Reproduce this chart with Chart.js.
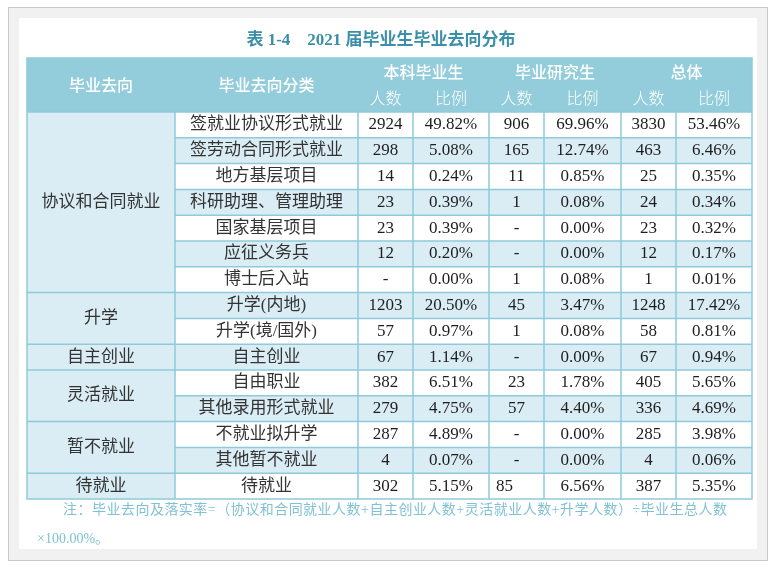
<!DOCTYPE html>
<html>
<head>
<meta charset="utf-8">
<script src="https://cdn.jsdelivr.net/npm/chart.js@4"></script>
<style>
    body { margin: 0; background: #fff; }
    #frame { position: absolute; left: 8px; top: 7px; width: 758px; height: 552px; border: 1px solid #c9c9c9; background: #f1f1f1; }
    #panel { position: absolute; left: 19px; top: 18px; width: 738px; height: 531px; background: #fff; }
</style>
</head>
<body>
<div id="frame"></div>
<div id="panel"><canvas id="tableChart" width="738" height="531"></canvas></div>
<script>
// table content
const groups = ['协议和合同就业', '升学', '自主创业', '灵活就业', '暂不就业', '待就业'];
const groupSpans = [7, 2, 1, 2, 2, 1];
const subCategories = [
    '签就业协议形式就业', '签劳动合同形式就业', '地方基层项目', '科研助理、管理助理',
    '国家基层项目', '应征义务兵', '博士后入站', '升学(内地)', '升学(境/国外)',
    '自主创业', '自由职业', '其他录用形式就业', '不就业拟升学', '其他暂不就业', '待就业'
];
const ugCount = [2924, 298, 14, 23, 23, 12, null, 1203, 57, 67, 382, 279, 287, 4, 302];
const ugRate = [49.82, 5.08, 0.24, 0.39, 0.39, 0.20, 0.00, 20.50, 0.97, 1.14, 6.51, 4.75, 4.89, 0.07, 5.15];
const pgCount = [906, 165, 11, 1, null, null, 1, 45, 1, null, 23, 57, null, null, 85];
const pgRate = [69.96, 12.74, 0.85, 0.08, 0.00, 0.00, 0.08, 3.47, 0.08, 0.00, 1.78, 4.40, 0.00, 0.00, 6.56];
const totalCount = [3830, 463, 25, 24, 23, 12, 1, 1248, 58, 67, 405, 336, 285, 4, 387];
const totalRate = [53.46, 6.46, 0.35, 0.34, 0.32, 0.17, 0.01, 17.42, 0.81, 0.94, 5.65, 4.69, 3.98, 0.06, 5.35];

const headerMain = ['毕业去向', '毕业去向分类'];
const headerGroups = ['本科毕业生', '毕业研究生', '总体'];
const headerSub = ['人数', '比例'];
const titleText = '表 1-4　2021 届毕业生毕业去向分布　';
const noteLines = [
    '注：毕业去向及落实率=（协议和合同就业人数+自主创业人数+灵活就业人数+升学人数）÷毕业生总人数',
    '×100.00%。'
];

// layout / style
const colWidths = [148, 183, 55, 76, 55, 77, 55, 76];
const headerHeight = 54;
const lineColor = '#8fcad9';
const headColor = '#93cddb';
const tintColor = '#daedf4';
const bodyFont = "17px 'Liberation Serif', 'Noto Sans CJK SC'";
const leftAligned = [{ row: 14, col: 2 }]; // the "85" cell sits left in the source

const fmtCount = v => v === null ? '-' : String(v);
const fmtRate = v => v.toFixed(2) + '%';
const valueCols = [
    ugCount.map(fmtCount), ugRate.map(fmtRate),
    pgCount.map(fmtCount), pgRate.map(fmtRate),
    totalCount.map(fmtCount), totalRate.map(fmtRate)
];

const tablePlugin = {
    id: 'tablePlugin',
    afterDraw(chart) {
        const { ctx, chartArea, scales: { x, y } } = chart;
        const edges = [0];
        colWidths.forEach(w => edges.push(edges[edges.length - 1] + w));
        const xs = edges.map(e => x.getPixelForValue(e));
        const rowH = y.getPixelForValue(1) - y.getPixelForValue(0);
        const rowTop = i => y.getPixelForValue(i) - rowH / 2;
        const headTop = chartArea.top - headerHeight;
        const left = xs[0], right = xs[xs.length - 1];

        ctx.save();
        ctx.textAlign = 'center';
        ctx.textBaseline = 'middle';

        // header
        ctx.fillStyle = headColor;
        ctx.fillRect(left, headTop, right - left, headerHeight);
        ctx.fillStyle = '#fff';
        ctx.font = "500 16px 'Noto Sans CJK SC'";
        headerMain.forEach((t, c) => ctx.fillText(t, (xs[c] + xs[c + 1]) / 2, headTop + headerHeight / 2));
        headerGroups.forEach((t, g) => {
            const c = 2 + g * 2;
            ctx.font = "500 16px 'Noto Sans CJK SC'";
            ctx.fillText(t, (xs[c] + xs[c + 2]) / 2, headTop + 14);
            ctx.font = "300 16px 'Noto Sans CJK SC'";
            headerSub.forEach((s, k) => ctx.fillText(s, (xs[c + k] + xs[c + k + 1]) / 2, headTop + 40));
        });

        // body backgrounds
        subCategories.forEach((_, i) => {
            ctx.fillStyle = i % 2 ? tintColor : '#fff';
            ctx.fillRect(xs[1], rowTop(i), right - xs[1], rowH);
        });
        ctx.fillStyle = tintColor;
        ctx.fillRect(left, chartArea.top, xs[1] - left, rowH * subCategories.length);

        // grid lines
        ctx.strokeStyle = lineColor;
        ctx.lineWidth = 1.5;
        ctx.beginPath();
        subCategories.forEach((_, i) => {
            if (i === 0) return;
            ctx.moveTo(xs[1], rowTop(i));
            ctx.lineTo(right, rowTop(i));
        });
        let start = 0;
        groupSpans.forEach(n => {
            start += n;
            ctx.moveTo(left, rowTop(start));
            ctx.lineTo(xs[1], rowTop(start));
        });
        xs.slice(1, -1).forEach(px => {
            ctx.moveTo(px, chartArea.top);
            ctx.lineTo(px, chartArea.bottom);
        });
        ctx.moveTo(left, chartArea.top);
        ctx.lineTo(right, chartArea.top);
        ctx.rect(left, headTop, right - left, chartArea.bottom - headTop);
        ctx.stroke();

        // body text
        ctx.font = bodyFont;
        ctx.fillStyle = '#333';
        start = 0;
        groups.forEach((g, k) => {
            const n = groupSpans[k];
            ctx.fillText(g, (left + xs[1]) / 2, rowTop(start) + n * rowH / 2);
            start += n;
        });
        subCategories.forEach((s, i) => {
            ctx.textAlign = 'center';
            ctx.fillStyle = '#333';
            ctx.fillText(s, (xs[1] + xs[2]) / 2, y.getPixelForValue(i));
            ctx.fillStyle = '#1e1e1e';
            valueCols.forEach((col, c) => {
                const atLeft = leftAligned.some(p => p.row === i && p.col === c);
                ctx.textAlign = atLeft ? 'left' : 'center';
                const px = atLeft ? xs[c + 2] + 7 : (xs[c + 2] + xs[c + 3]) / 2;
                ctx.fillText(col[i], px, y.getPixelForValue(i));
            });
        });

        // note, first line justified
        ctx.fillStyle = '#80c2d4';
        ctx.font = "14px 'Liberation Serif', 'Noto Sans CJK SC'";
        ctx.textAlign = 'left';
        const chars = Array.from(noteLines[0]);
        const natural = ctx.measureText(noteLines[0]).width;
        const x0 = left + 36, x1 = right - 25;
        const gap = (x1 - x0 - natural) / (chars.length - 1);
        let cx = x0;
        const ny = chartArea.bottom + 11;
        chars.forEach(ch => {
            ctx.fillText(ch, cx, ny);
            cx += ctx.measureText(ch).width + gap;
        });
        ctx.fillText(noteLines[1], left + 10, ny + 29);
        ctx.restore();
    }
};

new Chart(document.getElementById('tableChart'), {
    type: 'bar',
    data: { labels: subCategories, datasets: [] },
    options: {
        responsive: false,
        animation: false,
        indexAxis: 'y',
        layout: { padding: { left: 8, right: 5, top: 0, bottom: 50 } },
        scales: {
            x: { type: 'linear', min: 0, max: colWidths.reduce((a, b) => a + b, 0), display: false },
            y: { type: 'category', offset: true, display: false }
        },
        plugins: {
            legend: { display: false },
            tooltip: { enabled: false },
            title: {
                display: true,
                text: titleText,
                color: '#3b8fa8',
                font: { family: "'Liberation Serif', 'Noto Sans CJK SC'", size: 17, weight: 'bold', lineHeight: 1.2 },
                padding: { top: 12, bottom: 61.6 }
            }
        }
    },
    plugins: [tablePlugin]
});
</script>
</body>
</html>
